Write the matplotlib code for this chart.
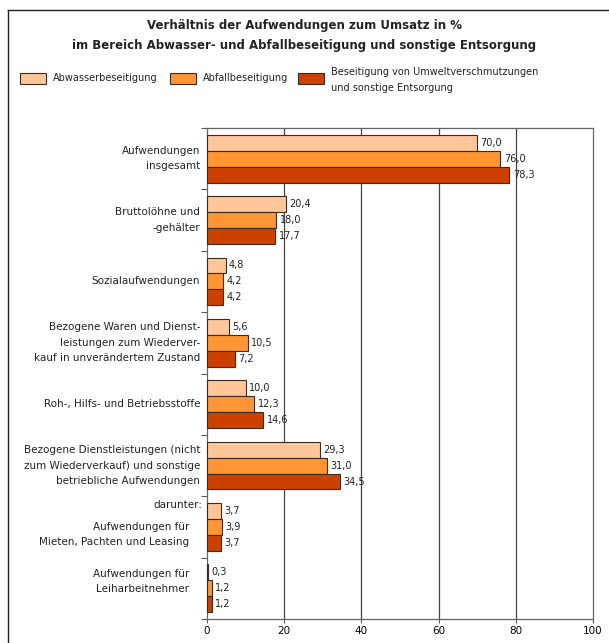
import matplotlib.pyplot as plt
from matplotlib.patches import Rectangle
from matplotlib.lines import Line2D
import numpy as np

categories = [
    "Aufwendungen\ninsgesamt",
    "Bruttolöhne und\n-gehälter",
    "Sozialaufwendungen",
    "Bezogene Waren und Dienst-\nleistungen zum Wiederver-\nkauf in unverändertem Zustand",
    "Roh-, Hilfs- und Betriebsstoffe",
    "Bezogene Dienstleistungen (nicht\nzum Wiederverkauf) und sonstige\nbetriebliche Aufwendungen",
    "Aufwendungen für\nMieten, Pachten und Leasing",
    "Aufwendungen für\nLeiharbeitnehmer",
]
series_names = [
    "Abwasserbeseitigung",
    "Abfallbeseitigung",
    "Beseitigung von Umweltverschmutzungen\nund sonstige Entsorgung",
]
abwasser = [70.0, 20.4, 4.8, 5.6, 10.0, 29.3, 3.7, 0.3]
abfall = [76.0, 18.0, 4.2, 10.5, 12.3, 31.0, 3.9, 1.2]
umwelt = [78.3, 17.7, 4.2, 7.2, 14.6, 34.5, 3.7, 1.2]
xticks = [0, 20, 40, 60, 80, 100]

colors = ["#ffc799", "#ff9533", "#cc4100"]
# sub-items under "darunter:" are indented and shifted a bit
label_shift = {6: 0.12, 7: -0.11}
indented = [6, 7]

plt.rcParams["font.family"] = "DejaVu Sans"

fig = plt.figure(figsize=(6.09, 6.43), dpi=100)
W, H = 609, 643


def fx(px):
    return px / W


def fy(py):
    return 1 - py / H


ax = fig.add_axes([fx(207), fy(619), fx(593) - fx(207), fy(128) - fy(619)])

y = np.arange(len(categories))
h = 0.26
for k, vals in enumerate([abwasser, abfall, umwelt]):
    pos = y + (k - 1) * h
    ax.barh(pos, vals, height=h, color=colors[k], edgecolor="#3b2a20",
            linewidth=0.8, zorder=3)
    for p, v in zip(pos, vals):
        ax.text(v + 0.9, p, f"{v:.1f}".replace(".", ","), va="center",
                ha="left", fontsize=7, color="#222222", zorder=4)

ax.set_xlim(0, 100)
ax.set_ylim(len(categories) - 0.5, -0.5)
ax.set_xticks(xticks)
ax.set_xticklabels([str(t) for t in xticks], fontsize=7.5)
ax.tick_params(axis="x", length=3, width=0.8, color="#555555", pad=2)
ax.set_yticks([])
ax.set_yticks(np.arange(-0.5, len(categories)), minor=True)
ax.tick_params(axis="y", which="minor", length=4.5, width=0.8,
               color="#555555", direction="out")
for t in xticks[1:-1]:
    ax.axvline(t, color="#444444", linewidth=0.9, zorder=1)
for s in ax.spines.values():
    s.set_color("#666666")
    s.set_linewidth(0.9)

for i, lab in enumerate(categories):
    xoff = -13 if i in indented else -5
    ax.annotate(lab, xy=(0, i + label_shift.get(i, 0)),
                xycoords=("axes fraction", "data"),
                xytext=(xoff, 0), textcoords="offset points",
                ha="right", va="center", fontsize=7.5, color="#222222",
                linespacing=1.7)
ax.annotate("darunter:", xy=(0, 5.65), xycoords=("axes fraction", "data"),
            xytext=(-3, 0), textcoords="offset points",
            ha="right", va="center", fontsize=7.5, color="#222222")

# title
fig.text(0.5, fy(26), "Verhältnis der Aufwendungen zum Umsatz in %",
         ha="center", va="center", fontsize=8.5, fontweight="bold",
         color="#222222")
fig.text(0.5, fy(45),
         "im Bereich Abwasser- und Abfallbeseitigung und sonstige Entsorgung",
         ha="center", va="center", fontsize=8.5, fontweight="bold",
         color="#222222")

# legend
legend_boxes = [20, 170, 298]
for k, name in enumerate(series_names):
    x0 = legend_boxes[k]
    fig.patches.append(Rectangle((fx(x0), fy(84)), fx(26), 11 / H,
                                 transform=fig.transFigure,
                                 facecolor=colors[k], edgecolor="#3b2a20",
                                 linewidth=0.8))
    if "\n" in name:
        fig.text(fx(x0 + 33), fy(67), name, ha="left", va="top",
                 fontsize=7, color="#222222", linespacing=1.7)
    else:
        fig.text(fx(x0 + 33), fy(78), name, ha="left", va="center",
                 fontsize=7, color="#222222")

# outer frame (top and left)
fig.add_artist(Line2D([fx(8), 1], [fy(10), fy(10)], color="#222222",
                      linewidth=1, transform=fig.transFigure))
fig.add_artist(Line2D([fx(8), fx(8)], [fy(10), 0], color="#222222",
                      linewidth=1, transform=fig.transFigure))

fig.savefig("out.png", dpi=100, facecolor="white")
